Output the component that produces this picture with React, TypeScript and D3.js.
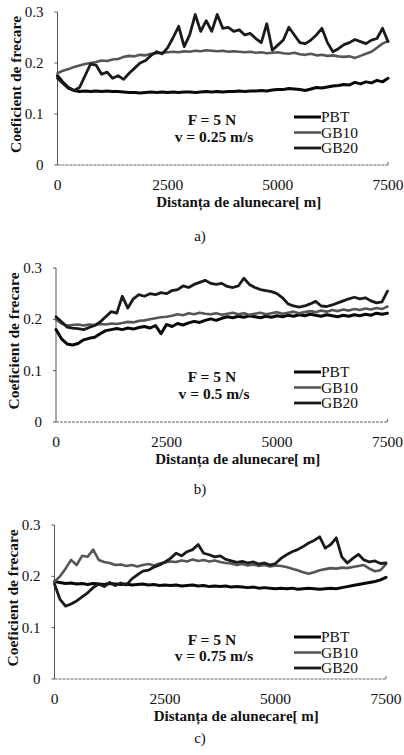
import React from "react";
import * as d3 from "d3";

const DIST = [0,125,250,375,500,625,750,875,1000,1125,1250,1375,1500,1625,1750,1875,2000,2125,2250,2375,2500,2625,2750,2875,3000,3125,3250,3375,3500,3625,3750,3875,4000,4125,4250,4375,4500,4625,4750,4875,5000,5125,5250,5375,5500,5625,5750,5875,6000,6125,6250,6375,6500,6625,6750,6875,7000,7125,7250,7375,7500];

const X_TICKS = [0, 2500, 5000, 7500];
const Y_TICKS = [0, 0.1, 0.2, 0.3];
const SERIES_NAMES = ["PBT", "GB10", "GB20"];
const SPEEDS = ["v = 0.25 m/s", "v = 0.5 m/s", "v = 0.75 m/s"];
const CAPTIONS = ["a)", "b)", "c)"];

const PBT_A = [0.175,0.162,0.152,0.146,0.144,0.145,0.144,0.145,0.144,0.145,
0.144,0.144,0.143,0.142,0.142,0.141,0.142,0.143,0.142,0.143,
0.142,0.143,0.142,0.143,0.143,0.142,0.143,0.144,0.143,0.144,
0.143,0.144,0.144,0.145,0.144,0.145,0.145,0.146,0.145,0.147,
0.148,0.148,0.150,0.149,0.148,0.146,0.149,0.152,0.151,0.153,
0.155,0.156,0.158,0.157,0.162,0.159,0.163,0.161,0.166,0.163,
0.170];
const GB10_A = [0.180,0.185,0.188,0.192,0.195,0.198,0.200,0.202,0.205,0.204,
0.207,0.208,0.212,0.214,0.213,0.216,0.215,0.218,0.219,0.220,
0.221,0.222,0.221,0.223,0.222,0.224,0.223,0.225,0.224,0.223,
0.224,0.222,0.223,0.222,0.221,0.222,0.220,0.221,0.219,0.220,
0.221,0.219,0.218,0.220,0.217,0.216,0.218,0.215,0.216,0.214,
0.215,0.213,0.212,0.213,0.210,0.214,0.218,0.222,0.230,0.238,
0.243];
const GB20_A = [0.170,0.160,0.150,0.146,0.152,0.175,0.198,0.196,0.178,0.182,
0.170,0.175,0.168,0.180,0.190,0.200,0.205,0.215,0.222,0.218,
0.230,0.250,0.272,0.232,0.255,0.295,0.262,0.283,0.262,0.295,
0.268,0.270,0.262,0.265,0.255,0.258,0.248,0.240,0.277,0.225,
0.235,0.245,0.270,0.255,0.240,0.238,0.245,0.255,0.268,0.240,
0.222,0.228,0.236,0.240,0.246,0.242,0.238,0.245,0.248,0.268,
0.242];

const PBT_B = [0.180,0.162,0.152,0.150,0.153,0.160,0.163,0.165,0.172,0.178,
0.180,0.182,0.180,0.183,0.181,0.184,0.186,0.183,0.188,0.172,
0.190,0.186,0.192,0.189,0.193,0.196,0.194,0.198,0.201,0.198,
0.202,0.205,0.203,0.206,0.204,0.207,0.205,0.203,0.206,0.204,
0.207,0.205,0.208,0.206,0.209,0.207,0.210,0.208,0.206,0.209,
0.207,0.205,0.208,0.206,0.209,0.207,0.210,0.208,0.212,0.210,
0.212];
const GB10_B = [0.200,0.192,0.188,0.189,0.190,0.188,0.190,0.189,0.191,0.190,
0.192,0.191,0.193,0.195,0.194,0.197,0.198,0.200,0.202,0.204,
0.205,0.207,0.210,0.208,0.212,0.210,0.213,0.211,0.210,0.212,
0.209,0.211,0.213,0.210,0.212,0.209,0.211,0.213,0.210,0.212,
0.214,0.211,0.213,0.215,0.212,0.214,0.216,0.214,0.217,0.215,
0.218,0.216,0.219,0.217,0.220,0.218,0.221,0.219,0.222,0.220,
0.225];
const GB20_B = [0.205,0.195,0.185,0.183,0.182,0.180,0.184,0.188,0.195,0.205,
0.215,0.212,0.245,0.222,0.240,0.248,0.245,0.250,0.248,0.252,
0.250,0.256,0.258,0.265,0.262,0.268,0.272,0.276,0.270,0.268,
0.270,0.264,0.262,0.265,0.280,0.268,0.262,0.258,0.256,0.254,
0.250,0.242,0.230,0.226,0.224,0.226,0.230,0.235,0.226,0.225,
0.228,0.232,0.236,0.240,0.243,0.240,0.242,0.236,0.232,0.234,
0.255];

const PBT_C = [0.190,0.188,0.186,0.187,0.185,0.186,0.184,0.186,0.185,0.184,
0.186,0.185,0.184,0.185,0.183,0.184,0.185,0.183,0.184,0.182,
0.183,0.182,0.183,0.181,0.182,0.183,0.181,0.182,0.180,0.181,
0.180,0.181,0.179,0.180,0.179,0.178,0.179,0.177,0.178,0.177,
0.176,0.177,0.176,0.177,0.175,0.176,0.177,0.176,0.175,0.176,
0.177,0.176,0.178,0.180,0.182,0.184,0.186,0.188,0.190,0.193,
0.198];
const GB10_C = [0.190,0.200,0.215,0.232,0.222,0.240,0.238,0.252,0.232,0.228,
0.226,0.222,0.223,0.220,0.222,0.219,0.222,0.224,0.221,0.225,
0.227,0.229,0.228,0.231,0.229,0.233,0.230,0.232,0.229,0.231,
0.228,0.226,0.225,0.222,0.224,0.221,0.223,0.220,0.222,0.219,
0.221,0.220,0.218,0.215,0.212,0.208,0.205,0.208,0.212,0.214,
0.216,0.215,0.217,0.216,0.218,0.220,0.222,0.215,0.210,0.212,
0.224];
const GB20_C = [0.185,0.155,0.142,0.146,0.152,0.160,0.168,0.178,0.185,0.180,
0.188,0.182,0.187,0.183,0.195,0.203,0.210,0.212,0.218,0.222,
0.228,0.235,0.245,0.240,0.248,0.252,0.262,0.245,0.242,0.238,
0.240,0.233,0.230,0.227,0.229,0.226,0.228,0.224,0.226,0.222,
0.225,0.235,0.242,0.248,0.252,0.258,0.265,0.270,0.277,0.255,
0.262,0.275,0.238,0.226,0.235,0.243,0.232,0.228,0.230,0.225,
0.226];

const PANEL_DATA = [
  [PBT_A, GB10_A, GB20_A],
  [PBT_B, GB10_B, GB20_B],
  [PBT_C, GB10_C, GB20_C],
];

const LAYOUT = [
  { left: 57.5, right: 388, top: 12, bottom: 165, legendY: 117, fY: 125, vY: 142, capY: 241 },
  { left: 56, right: 387.5, top: 268, bottom: 422, legendY: 372, fY: 382, vY: 399, capY: 494 },
  { left: 54.5, right: 386, top: 525, bottom: 679, legendY: 637, fY: 645, vY: 661, capY: 743 },
];

const STYLES = [
  { stroke: "#080808", width: 3 },
  { stroke: "#565656", width: 2.6 },
  { stroke: "#1a1a1a", width: 2.8 },
];

const FONT = "'Liberation Serif', 'Times New Roman', serif";

function Panel({ idx }: { idx: number }) {
  const L = LAYOUT[idx];
  const x = d3.scaleLinear().domain([0, 7500]).range([L.left, L.right]);
  const y = d3.scaleLinear().domain([0, 0.3]).range([L.bottom, L.top]);
  const line = d3
    .line<number>()
    .x((_, i) => x(DIST[i]))
    .y((v) => y(v));
  const series = PANEL_DATA[idx];
  const midY = (L.top + L.bottom) / 2 - 4;
  return (
    <g>
      <line x1={L.left} x2={L.left} y1={L.top} y2={L.bottom} stroke="#555" strokeWidth={1} />
      <line x1={L.left} x2={L.right} y1={L.bottom} y2={L.bottom} stroke="#666" strokeWidth={1.1} strokeDasharray="3 1" />
      <line x1={L.right} x2={L.right} y1={L.bottom - 3} y2={L.bottom} stroke="#666" strokeWidth={1} />
      {Y_TICKS.map((t) => (
        <g key={t}>
          <line x1={L.left - 3} x2={L.left} y1={y(t)} y2={y(t)} stroke="#555" strokeWidth={1} />
          <text x={L.left - 14} y={y(t) + 5} textAnchor="end" fontFamily={FONT} fontSize={15} fill="#111">
            {t === 0 ? "0" : t.toFixed(1)}
          </text>
        </g>
      ))}
      {X_TICKS.map((t) => (
        <text key={t} x={x(t)} y={L.bottom + 25} textAnchor="middle" fontFamily={FONT} fontSize={15.5} fill="#111">
          {t}
        </text>
      ))}
      <text x={(L.left + L.right) / 2 + 16} y={L.bottom + 42} textAnchor="middle" fontFamily={FONT} fontSize={15} fontWeight="bold" fill="#111">
        Distanța de alunecare[ m]
      </text>
      <text
        transform={`translate(${L.left - 37},${midY}) rotate(-90)`}
        textAnchor="middle"
        fontFamily={FONT}
        fontSize={15.5}
        fontWeight="bold"
        fill="#111"
      >
        Coeficient de frecare
      </text>
      {series.map((s, k) => (
        <path
          key={k}
          d={line(s) || ""}
          fill="none"
          stroke={STYLES[k].stroke}
          strokeWidth={STYLES[k].width}
          strokeLinejoin="round"
          strokeLinecap="round"
        />
      ))}
      <text x={212} y={L.fY} textAnchor="middle" fontFamily={FONT} fontSize={15.5} fontWeight="bold" fill="#111">
        F = 5 N
      </text>
      <text x={214} y={L.vY} textAnchor="middle" fontFamily={FONT} fontSize={15.5} fontWeight="bold" fill="#111">
        {SPEEDS[idx]}
      </text>
      {SERIES_NAMES.map((n, k) => {
        const ly = L.legendY + k * 15.5;
        return (
          <g key={n}>
            <line x1={294} x2={321} y1={ly} y2={ly} stroke={STYLES[k].stroke} strokeWidth={STYLES[k].width} />
            <text x={321} y={ly + 5} fontFamily={FONT} fontSize={15.5} fill="#111">
              {n}
            </text>
          </g>
        );
      })}
      <text x={200} y={L.capY} textAnchor="middle" fontFamily={FONT} fontSize={15} fill="#111">
        {CAPTIONS[idx]}
      </text>
    </g>
  );
}

export default function App() {
  return (
    <svg
      width={404}
      height={755}
      viewBox="0 0 404 755"
      style={{ position: "absolute", left: 0, top: 0, background: "#fff" }}
    >
      <rect x={0} y={0} width={404} height={755} fill="#fff" />
      {[0, 1, 2].map((i) => (
        <Panel key={i} idx={i} />
      ))}
    </svg>
  );
}
